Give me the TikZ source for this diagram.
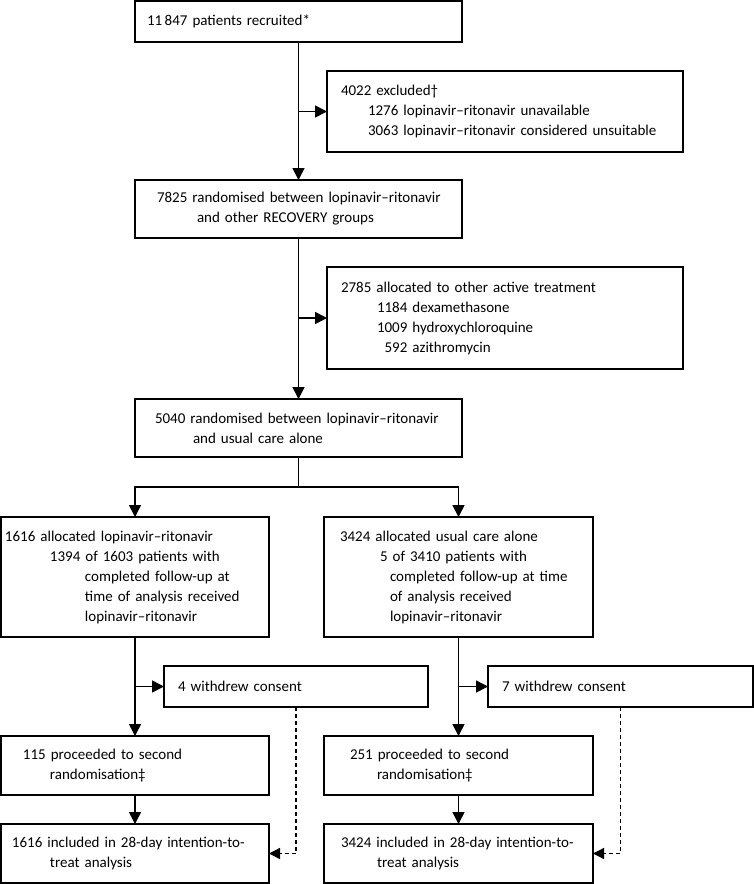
\documentclass[tikz,border=0pt]{standalone}
\usepackage{fontspec}
\usepackage{tikz}
\usetikzlibrary{arrows.meta}
\newfontfamily\boxfont{Carlito}
\newcommand{\ind}[1]{\hspace*{#1pt}}

\tikzset{
  flowbox/.style={draw, line width=1.6pt, anchor=north west, outer sep=0pt,
                  inner xsep=0pt, inner ysep=0pt, align=left,
                  font=\boxfont\fontsize{15}{20}\selectfont},
  flow/.style={line width=1.6pt, -{Triangle[length=12pt,width=12pt]}},
  lost/.style={line width=1.3pt, dash pattern=on 4pt off 3pt,
               -{Triangle[length=11pt,width=11pt]}}
}

\begin{document}
\begin{tikzpicture}[x=1pt, y=-1pt]
  \useasboundingbox (0,0) rectangle (754,884);

  \node[flowbox, text width=327pt, minimum height=41pt]  (recruit) at (135,1)   {\ind{12}11\,847 patients recruited*};
  \node[flowbox, text width=356pt, minimum height=81pt]  (excl)    at (327,71)  {\ind{14}4022 excluded†\\
                                                                                  \ind{41}1276 lopinavir–ritonavir unavailable\\
                                                                                  \ind{41}3063 lopinavir–ritonavir considered unsuitable};
  \node[flowbox, text width=327pt, minimum height=58pt]  (rand1)   at (135,180) {\ind{22}7825 randomised between lopinavir–ritonavir\\
                                                                                  \ind{62}and other RECOVERY groups};
  \node[flowbox, text width=356pt, minimum height=102pt] (other)   at (327,267) {\ind{14}2785 allocated to other active treatment\\
                                                                                  \ind{50}1184 dexamethasone\\
                                                                                  \ind{50}1009 hydroxychloroquine\\
                                                                                  \ind{50}\phantom{0}592 azithromycin};
  \node[flowbox, text width=327pt, minimum height=58pt]  (rand2)   at (135,399) {\ind{20}5040 randomised between lopinavir–ritonavir\\
                                                                                  \ind{58}and usual care alone};
  \node[flowbox, text width=268pt, minimum height=120pt] (lpv)     at (1,517)   {\ind{4}1616 allocated lopinavir–ritonavir\\
                                                                                  \ind{49}1394 of 1603 patients with\\
                                                                                  \ind{84}completed follow-up at\\
                                                                                  \ind{84}time of analysis received\\
                                                                                  \ind{84}lopinavir–ritonavir};
  \node[flowbox, text width=269pt, minimum height=120pt] (usual)   at (324,517) {\ind{16}3424 allocated usual care alone\\
                                                                                  \ind{56}5 of 3410 patients with\\
                                                                                  \ind{66}completed follow-up at time\\
                                                                                  \ind{66}of analysis received\\
                                                                                  \ind{66}lopinavir–ritonavir};
  \node[flowbox, text width=264pt, minimum height=41pt]  (wdL)     at (164,666) {\ind{14}4 withdrew consent};
  \node[flowbox, text width=265pt, minimum height=41pt]  (wdR)     at (488,666) {\ind{14}7 withdrew consent};
  \node[flowbox, text width=268pt, minimum height=59pt]  (secL)    at (1,736)   {\ind{22}115 proceeded to second\\
                                                                                  \ind{49}randomisation‡};
  \node[flowbox, text width=269pt, minimum height=59pt]  (secR)    at (324,736) {\ind{26}251 proceeded to second\\
                                                                                  \ind{53}randomisation‡};
  \node[flowbox, text width=268pt, minimum height=59pt]  (ittL)    at (1,824)   {\ind{11}1616 included in 28-day intention-to-\\
                                                                                  \ind{49}treat analysis};
  \node[flowbox, text width=269pt, minimum height=59pt]  (ittR)    at (324,824) {\ind{17}3424 included in 28-day intention-to-\\
                                                                                  \ind{53}treat analysis};

  \coordinate (split) at (298.5,487);

  \path[flow] (recruit)                    edge (rand1)
              (excl.west -| recruit.south) edge (excl)
              (rand1)                      edge (rand2)
              (other.west -| rand1.south)  edge (other)
              (lpv)                        edge (secL)
              (wdL.west -| lpv.south)      edge (wdL)
              (secL)                       edge (ittL)
              (usual)                      edge (secR)
              (wdR.west -| usual.south)    edge (wdR)
              (secR)                       edge (ittR);

  \draw[line width=1.6pt] (rand2) -- (split);
  \draw[flow] (split) -| (lpv.north);
  \draw[flow] (split) -| (usual.north);

  \draw[lost] (wdL.south) |- (ittL.east);
  \draw[lost] (wdR.south) |- (ittR.east);
\end{tikzpicture}
\end{document}
